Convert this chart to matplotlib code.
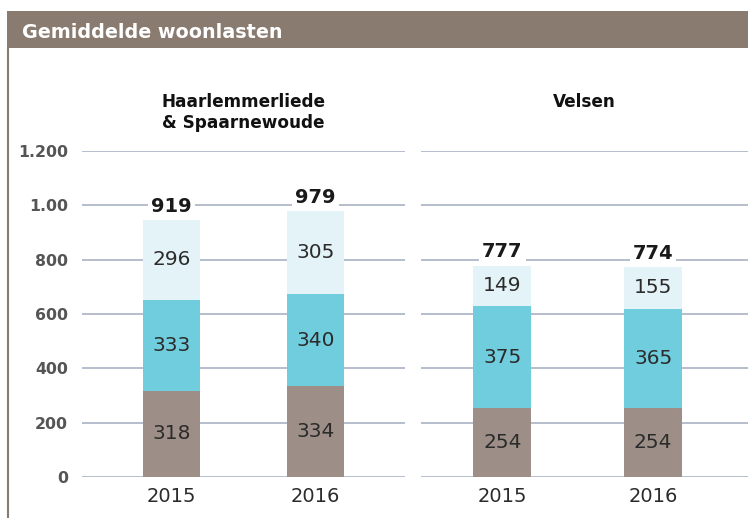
import matplotlib
matplotlib.use("Agg")
import matplotlib.pyplot as plt
from matplotlib.patches import Rectangle
from matplotlib.lines import Line2D

# ---- data ----
years = ["2015", "2016"]
panel_titles = ["Haarlemmerliede\n& Spaarnewoude", "Velsen"]
haarlem_bottom = [318, 334]
haarlem_mid = [333, 340]
haarlem_top = [296, 305]
haarlem_total = [919, 979]
velsen_bottom = [254, 254]
velsen_mid = [375, 365]
velsen_top = [149, 155]
velsen_total = [777, 774]
ytick_values = [0, 200, 400, 600, 800, 1000, 1200]
ytick_labels = ["0", "200", "400", "600", "800", "1.00", "1.200"]
header_title = "Gemiddelde woonlasten"

# ---- style ----
C_HEADER = "#8a7b71"
C_BOTTOM = "#9d8f87"
C_MID = "#6fcddd"
C_TOP = "#e3f3f7"
C_GRID = "#a9b3c6"
C_TEXT = "#2b2b2b"
C_TICK = "#555555"

plt.rcParams['font.family'] = ['DejaVu Sans']

W, H = 748, 518
fig = plt.figure(figsize=(W / 100, H / 100), dpi=100)

# header bar
fig.patches.append(Rectangle((7 / W, 1 - 48 / H), (W - 7) / W, 37 / H,
                             transform=fig.transFigure, facecolor=C_HEADER,
                             edgecolor="none", zorder=0))
fig.text(22 / W, 1 - 33 / H, header_title, color="white", fontsize=13.8,
         fontweight="bold", va="center", ha="left")
# left border line
fig.add_artist(Line2D([8 / W, 8 / W], [0, 1 - 48 / H], transform=fig.transFigure,
                      color=C_HEADER, lw=1.5))

ax_bottom = 41 / H
ax_height = 326 / H

panels = [
    dict(rect=[82 / W, ax_bottom, (405 - 82) / W, ax_height], xlim=(-0.62, 1.62), width=0.4,
         b=haarlem_bottom, m=haarlem_mid, t=haarlem_top, tot=haarlem_total, title=panel_titles[0]),
    dict(rect=[421 / W, ax_bottom, (748 - 421) / W, ax_height], xlim=(-0.54, 1.63), width=0.385,
         b=velsen_bottom, m=velsen_mid, t=velsen_top, tot=velsen_total, title=panel_titles[1]),
]

for i, p in enumerate(panels):
    ax = fig.add_axes(p["rect"])
    x = list(range(len(years)))
    ax.set_xlim(*p["xlim"])
    ax.set_ylim(0, 1200)
    for s in ax.spines.values():
        s.set_visible(False)
    ax.set_yticks(ytick_values)
    ax.yaxis.grid(True, color=C_GRID, lw=1.2)
    ax.set_axisbelow(True)
    ax.tick_params(axis="both", length=0)
    if i == 0:
        ax.set_yticklabels(ytick_labels, fontsize=11.3, fontweight="bold", color=C_TICK)
        ax.tick_params(axis="y", pad=10)
    else:
        ax.set_yticklabels([])
    ax.set_xticks(x)
    ax.set_xticklabels(years, fontsize=14, color=C_TEXT)
    ax.tick_params(axis="x", pad=7)

    b, m, t = p["b"], p["m"], p["t"]
    w = p["width"]
    bars_b = ax.bar(x, b, width=w, color=C_BOTTOM, zorder=2)
    bars_m = ax.bar(x, m, width=w, bottom=b, color=C_MID, zorder=2)
    bt = [bb + mm for bb, mm in zip(b, m)]
    bars_t = ax.bar(x, t, width=w, bottom=bt, color=C_TOP, zorder=2)
    for bars in (bars_b, bars_m, bars_t):
        ax.bar_label(bars, label_type="center", fontsize=14.5, color=C_TEXT)
    tops = [bb + tt for bb, tt in zip(bt, t)]
    for xi, top, tot in zip(x, tops, p["tot"]):
        ax.annotate(str(tot), (xi, top), xytext=(0, 3), textcoords="offset points",
                    ha="center", va="bottom", fontsize=14, fontweight="bold", color="#1a1a1a",
                    bbox=dict(boxstyle="square,pad=0.15", fc="white", ec="none"), zorder=3)
    ax.text(0.5, 1.0 + 58 / 326, p["title"], transform=ax.transAxes,
            ha="center", va="top", fontsize=12.2, fontweight="bold", color="#111111",
            linespacing=1.22)

fig.savefig("out.png", dpi=100)
